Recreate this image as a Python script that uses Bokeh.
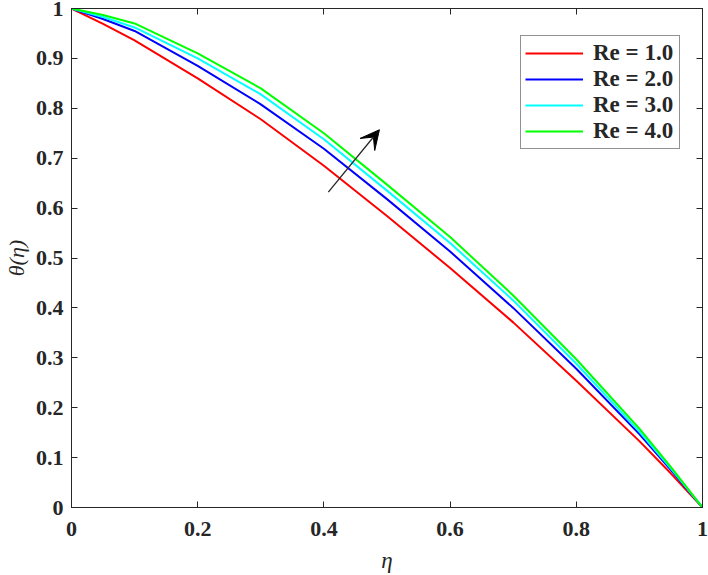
from bokeh.plotting import figure
from bokeh.models import (Range1d, LinearAxis, FixedTicker, Legend, LegendItem,
                          Arrow, VeeHead)
from bokeh.embed import file_html
from bokeh.resources import INLINE

# Temperature profiles theta(eta) for several Reynolds numbers
eta = [0.0, 0.05, 0.1, 0.2, 0.3, 0.4, 0.5, 0.6, 0.7, 0.8, 0.9, 0.95, 1.0]
theta_re1 = [1.0, 0.969, 0.936, 0.860, 0.778, 0.685, 0.584, 0.480, 0.371, 0.254, 0.133, 0.068, 0.0]
theta_re2 = [1.0, 0.979, 0.955, 0.885, 0.808, 0.719, 0.618, 0.513, 0.400, 0.278, 0.147, 0.075, 0.0]
theta_re3 = [1.0, 0.983, 0.962, 0.900, 0.828, 0.738, 0.635, 0.530, 0.415, 0.288, 0.152, 0.078, 0.0]
theta_re4 = [1.0, 0.987, 0.970, 0.910, 0.840, 0.750, 0.647, 0.542, 0.425, 0.297, 0.158, 0.081, 0.0]

series_labels = ["Re = 1.0", "Re = 2.0", "Re = 3.0", "Re = 4.0"]
series_colors = ["#ff0000", "#0000ff", "#00ffff", "#00ff00"]

x_ticks = [0.0, 0.2, 0.4, 0.6, 0.8, 1.0]
x_tick_labels = ["0", "0.2", "0.4", "0.6", "0.8", "1"]
y_ticks = [0.0, 0.1, 0.2, 0.3, 0.4, 0.5, 0.6, 0.7, 0.8, 0.9, 1.0]
y_tick_labels = ["0", "0.1", "0.2", "0.3", "0.4", "0.5", "0.6", "0.7", "0.8", "0.9", "1"]

# arrow showing the direction of increasing Re
arrow_start = (0.407, 0.632)
arrow_end = (0.488, 0.757)

SERIF = "Liberation Serif"
INK = "#262626"

p = figure(width=708, height=575, output_backend="svg", toolbar_location=None,
           x_range=Range1d(0, 1), y_range=Range1d(0, 1),
           min_border_left=68, min_border_right=6, min_border_top=8,
           min_border_bottom=68, x_axis_location=None, y_axis_location=None)
p.grid.visible = False
p.outline_line_color = INK
p.background_fill_color = "white"
p.border_fill_color = "white"


def style_axis(ax, ticks, labels, show_labels, standoff=8):
    ax.ticker = FixedTicker(ticks=ticks)
    ax.major_tick_in = 6
    ax.major_tick_out = 0
    ax.minor_tick_line_color = None
    ax.axis_line_color = INK
    ax.major_tick_line_color = INK
    ax.major_label_text_font = SERIF
    ax.major_label_text_font_style = "bold"
    if show_labels:
        ax.major_label_overrides = {t: s for t, s in zip(ticks, labels)}
        ax.major_label_text_color = INK
        ax.major_label_text_font_size = "22px"
        ax.major_label_standoff = standoff
    else:
        # mirrored box ticks only: labels are not painted
        ax.major_label_text_color = None
        ax.major_label_text_font_size = "0px"
        ax.major_label_standoff = 0


xb = LinearAxis()
style_axis(xb, x_ticks, x_tick_labels, True, standoff=14)
xb.axis_label = "η"
xb.axis_label_text_font = SERIF
xb.axis_label_text_font_style = "italic"
xb.axis_label_text_font_size = "23px"
xb.axis_label_text_color = INK
xb.axis_label_standoff = 9
p.add_layout(xb, "below")

yl = LinearAxis()
style_axis(yl, y_ticks, y_tick_labels, True, standoff=8)
yl.axis_label = "θ(η)"
yl.axis_label_text_font = SERIF
yl.axis_label_text_font_style = "italic"
yl.axis_label_text_font_size = "22px"
yl.axis_label_text_color = INK
yl.axis_label_standoff = 4
p.add_layout(yl, "left")

xt = LinearAxis()
style_axis(xt, x_ticks, x_tick_labels, False)
p.add_layout(xt, "above")

yr = LinearAxis()
style_axis(yr, y_ticks, y_tick_labels, False)
p.add_layout(yr, "right")

renderers = []
for ys, c in zip([theta_re1, theta_re2, theta_re3, theta_re4], series_colors):
    r = p.line(eta, ys, line_color=c, line_width=2, line_join="round")
    renderers.append(r)

legend = Legend(items=[LegendItem(label=lab, renderers=[r])
                       for lab, r in zip(series_labels, renderers)],
                location=(449, 358))
legend.label_text_font = SERIF
legend.label_text_font_style = "bold"
legend.label_text_font_size = "23px"
legend.label_text_color = INK
legend.glyph_width = 58
legend.glyph_height = 26
legend.label_height = 26
legend.label_width = 82
legend.label_standoff = 10
legend.spacing = 0
legend.padding = 4
legend.margin = 0
legend.border_line_color = INK
legend.border_line_width = 1
legend.background_fill_color = "white"
p.add_layout(legend)

p.add_layout(Arrow(x_start=arrow_start[0], y_start=arrow_start[1],
                   x_end=arrow_end[0], y_end=arrow_end[1],
                   line_color=INK, line_width=1.3,
                   end=VeeHead(size=19, fill_color="black", line_color="black")))

open("out.html", "w").write(file_html(p, INLINE))
